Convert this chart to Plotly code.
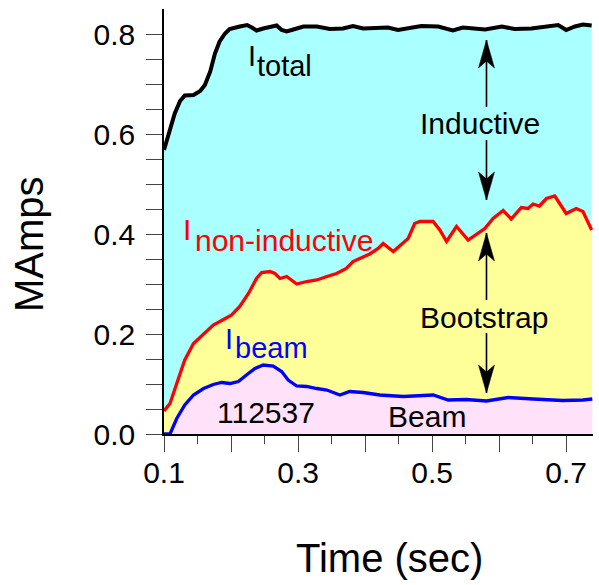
import plotly.graph_objects as go

# ---------------- data ----------------
TIME_TOTAL = [0.1, 0.109, 0.116, 0.124, 0.131, 0.144, 0.154, 0.161, 0.169, 0.176,
              0.183, 0.191, 0.198, 0.213, 0.224, 0.231, 0.238, 0.248, 0.258, 0.268,
              0.2755, 0.283, 0.293, 0.308, 0.328, 0.3475, 0.367, 0.382, 0.397, 0.415,
              0.434, 0.449, 0.464, 0.484, 0.509, 0.531, 0.546, 0.564, 0.579, 0.604,
              0.623, 0.648, 0.673, 0.688, 0.700, 0.713, 0.725, 0.738]
I_TOTAL = [0.568, 0.608, 0.641, 0.666, 0.677, 0.678, 0.686, 0.698, 0.725, 0.761,
           0.785, 0.801, 0.810, 0.815, 0.818, 0.813, 0.807, 0.811, 0.813, 0.817,
           0.808, 0.805, 0.809, 0.815, 0.815, 0.810, 0.811, 0.816, 0.811, 0.811,
           0.813, 0.808, 0.811, 0.816, 0.815, 0.807, 0.813, 0.811, 0.809, 0.815,
           0.810, 0.811, 0.815, 0.818, 0.808, 0.815, 0.819, 0.817]

TIME_NONIND = [0.1, 0.109, 0.119, 0.131, 0.144, 0.159, 0.1735, 0.186, 0.201, 0.213,
               0.226, 0.238, 0.2457, 0.258, 0.2655, 0.273, 0.283, 0.290, 0.298, 0.313,
               0.328, 0.343, 0.3575, 0.372, 0.382, 0.392, 0.407, 0.4195, 0.427, 0.442,
               0.4643, 0.474, 0.4817, 0.5015, 0.5115, 0.5215, 0.5364, 0.5537, 0.5786, 0.591,
               0.606, 0.618, 0.633, 0.643, 0.6506, 0.660, 0.6706, 0.683, 0.700, 0.715,
               0.725, 0.738]
I_NONIND = [0.046, 0.061, 0.101, 0.148, 0.181, 0.201, 0.218, 0.227, 0.238, 0.255,
            0.281, 0.311, 0.323, 0.325, 0.321, 0.311, 0.315, 0.308, 0.300, 0.305,
            0.308, 0.315, 0.321, 0.331, 0.345, 0.351, 0.360, 0.371, 0.381, 0.365,
            0.391, 0.421, 0.425, 0.425, 0.408, 0.385, 0.415, 0.388, 0.411, 0.431,
            0.447, 0.430, 0.453, 0.451, 0.460, 0.456, 0.471, 0.476, 0.441, 0.451,
            0.445, 0.408]

TIME_BEAM = [0.1, 0.109, 0.119, 0.131, 0.144, 0.159, 0.1735, 0.186, 0.1984, 0.211,
             0.223, 0.2357, 0.248, 0.263, 0.2755, 0.2853, 0.298, 0.3128, 0.328, 0.343,
             0.3624, 0.377, 0.397, 0.422, 0.457, 0.5015, 0.524, 0.551, 0.581, 0.6135,
             0.6506, 0.695, 0.725, 0.739]
I_BEAM = [0.0, 0.0, 0.031, 0.058, 0.078, 0.091, 0.099, 0.103, 0.101, 0.105,
          0.118, 0.131, 0.138, 0.136, 0.125, 0.108, 0.096, 0.095, 0.091, 0.088,
          0.078, 0.085, 0.083, 0.078, 0.075, 0.078, 0.068, 0.069, 0.066, 0.073,
          0.070, 0.067, 0.068, 0.070]

X_TICK_VALS = [0.1, 0.2, 0.3, 0.4, 0.5, 0.6, 0.7]
X_TICK_TEXT = ["0.1", "", "0.3", "", "0.5", "", "0.7"]
X_MINOR_VALS = [0.15, 0.25, 0.35, 0.45, 0.55, 0.65]
Y_TICK_VALS = [0.0, 0.05, 0.1, 0.15, 0.2, 0.25, 0.3, 0.35, 0.4, 0.45, 0.5, 0.55,
               0.6, 0.65, 0.7, 0.75, 0.8]
Y_TICK_TEXT = ["0.0", "", "", "", "0.2", "", "", "", "0.4", "", "", "", "0.6",
               "", "", "", "0.8"]
TOP_TICK_VALS = [0.15, 0.2, 0.25, 0.3, 0.35, 0.4, 0.45, 0.5, 0.55, 0.6, 0.65, 0.7]
RIGHT_TICK_VALS = [0.05, 0.1, 0.15, 0.2, 0.25, 0.3, 0.35, 0.4, 0.45, 0.5, 0.55,
                   0.6, 0.65, 0.7, 0.75, 0.8]

X_RANGE = [0.1, 0.74]
Y_RANGE = [0.0, 0.85]

FONT = "Liberation Sans, Arial, sans-serif"

fig = go.Figure()
fig.add_trace(go.Scatter(x=TIME_TOTAL, y=I_TOTAL, mode="lines", fill="tozeroy",
                         fillcolor="#aaffff", line=dict(color="black", width=4),
                         name="I total", showlegend=False))
fig.add_trace(go.Scatter(x=TIME_NONIND, y=I_NONIND, mode="lines", fill="tozeroy",
                         fillcolor="#ffff99", line=dict(color="#ff0000", width=3.3),
                         name="I non-inductive", showlegend=False))
fig.add_trace(go.Scatter(x=TIME_BEAM, y=I_BEAM, mode="lines", fill="tozeroy",
                         fillcolor="#ffe2fa", line=dict(color="#0000ff", width=3.3),
                         name="I beam", showlegend=False))

ann = []
def label(t, v, text, color="black", size=30, xanchor="center"):
    ann.append(dict(x=t, y=v, xref="x", yref="y", text=text, showarrow=False,
                    xanchor=xanchor, yanchor="middle",
                    font=dict(family=FONT, size=size, color=color)))

label(0.2312, 0.756, "I", size=29)
label(0.2364, 0.736, "total", size=29, xanchor="left")
label(0.1338, 0.410, "I", color="#ff0000", size=30)
label(0.1432, 0.388, "non-inductive", color="#ff0000", size=30, xanchor="left")
label(0.1977, 0.191, "I", color="#0000ff", size=29)
label(0.2029, 0.172, "beam", color="#0000ff", size=29, xanchor="left")
label(0.5711, 0.622, "Inductive")
label(0.5771, 0.233, "Bootstrap")
label(0.4921, 0.036, "Beam")
label(0.2521, 0.043, "112537")

# double-headed arrows: shaft lines + narrow barbed heads (pixel-sized paths)
ARROW_T = 0.5811
shapes = []
HEAD_UP = "M0,0 L8,-28 L0,-21 L-8,-28 Z"
HEAD_DOWN = "M0,0 L8,28 L0,21 L-8,28 Z"
for tip, tail in [(0.788, 0.654), (0.468, 0.588), (0.402, 0.268), (0.082, 0.202)]:
    shapes.append(dict(type="line", xref="x", yref="y", x0=ARROW_T, x1=ARROW_T,
                       y0=tail, y1=tip, line=dict(color="black", width=1.6),
                       layer="above"))
    shapes.append(dict(type="path", xref="x", yref="y", xsizemode="pixel",
                       ysizemode="pixel", xanchor=ARROW_T, yanchor=tip,
                       path=HEAD_UP if tip > tail else HEAD_DOWN,
                       fillcolor="black", line=dict(color="black", width=0.5),
                       layer="above"))

# axis titles
ann.append(dict(x=-0.3147, y=0.447, xref="paper", yref="paper", text="MAmps",
                textangle=-90, showarrow=False, xanchor="center", yanchor="middle",
                font=dict(family=FONT, size=40, color="black")))
ann.append(dict(x=0.5268, y=-0.2918, xref="paper", yref="paper", text="Time (sec)",
                showarrow=False, xanchor="center", yanchor="middle",
                font=dict(family=FONT, size=40, color="black")))

fig.update_layout(
    width=599, height=585,
    margin=dict(l=164, r=6, t=9, b=151, pad=0),
    paper_bgcolor="white", plot_bgcolor="white",
    showlegend=False,
    annotations=ann,
    shapes=shapes,
    font=dict(family=FONT, color="black"),
    xaxis=dict(range=X_RANGE, showgrid=False, zeroline=False, showline=True,
               linecolor="black", linewidth=1.5, ticks="outside", ticklen=16,
               tickwidth=1.2, tickcolor="#444", tickvals=X_TICK_VALS,
               ticktext=X_TICK_TEXT, tickfont=dict(size=30, color="black"),
               ticklabelstandoff=-5,
               minor=dict(tickvals=X_MINOR_VALS, ticks="outside", ticklen=8,
                          tickwidth=1.2, tickcolor="#444")),
    yaxis=dict(range=Y_RANGE, showgrid=False, zeroline=False, showline=True,
               linecolor="black", linewidth=1.5, ticks="outside", ticklen=16,
               tickwidth=1.2, tickcolor="#444", tickvals=Y_TICK_VALS,
               ticktext=Y_TICK_TEXT, tickfont=dict(size=30, color="black"),
               ticklabelstandoff=5),
    xaxis2=dict(range=X_RANGE, overlaying="x", side="top", anchor="y",
                showgrid=False, zeroline=False, showline=True, linecolor="black",
                linewidth=1.2, ticks="inside", ticklen=8, tickwidth=1.2,
                tickcolor="#444", tickvals=TOP_TICK_VALS, showticklabels=False),
    yaxis2=dict(range=Y_RANGE, overlaying="y", side="right", anchor="x",
                showgrid=False, zeroline=False, showline=False, ticks="inside",
                ticklen=9, tickwidth=1.2, tickcolor="#444",
                tickvals=RIGHT_TICK_VALS, showticklabels=False),
    yaxis3=dict(range=Y_RANGE, overlaying="y", side="right", anchor="x",
                showgrid=False, zeroline=False, showline=False, ticks="outside",
                ticklen=8, tickwidth=1.2, tickcolor="#444",
                tickvals=RIGHT_TICK_VALS, showticklabels=False),
)

# the page's default 8px body margin would shift the 599x585 figure
fig.write_html("out.html", config={"displayModeBar": False},
               post_script="document.body.style.margin='0';document.body.style.overflow='hidden';")
